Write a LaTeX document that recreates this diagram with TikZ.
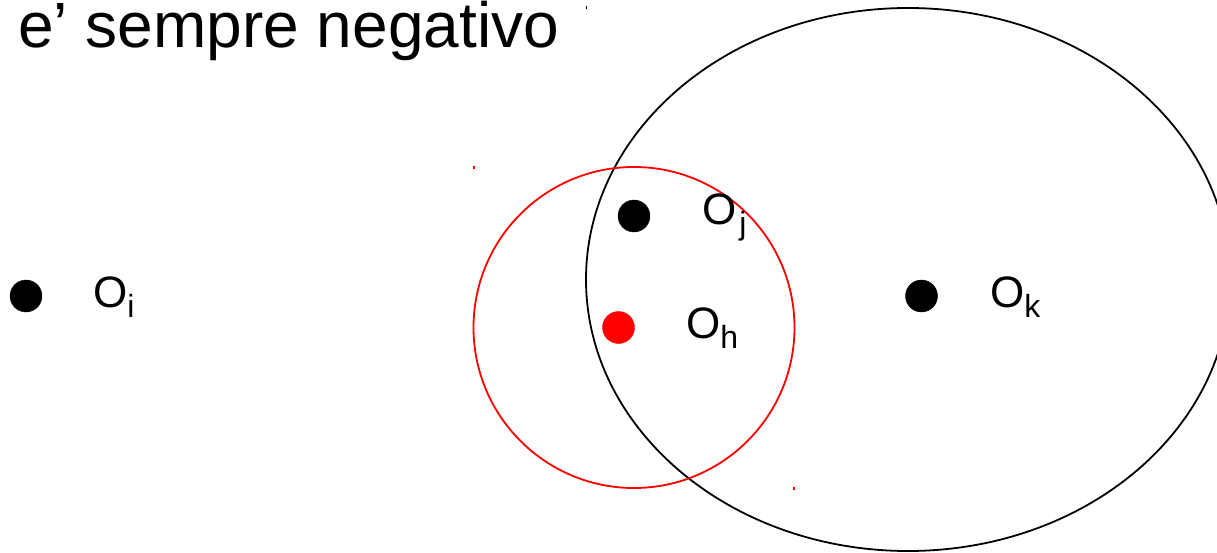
\documentclass[tikz,border=0pt]{standalone}
\usepackage{fontspec}
\setmainfont{Liberation Sans}
\usetikzlibrary{calc,positioning}

\newcommand\lblsub[1]{\raisebox{-10pt}{\fontsize{32}{32}\selectfont #1}}

\begin{document}
\begin{tikzpicture}[x=1pt,y=-1pt]
\tikzset{
  dot/.style={radius=16pt},
  lbl/.style={anchor=base west,inner sep=0pt,font=\fontsize{44}{44}\selectfont},
  ring/.style={line width=1.8pt},
}
\clip (0,0) rectangle (1217,553);

\node[anchor=base west,inner sep=0pt,text height=40pt,text depth=14pt,font=\fontsize{64}{64}\selectfont] (title) at (18,48) {e’ sempre negativo};

%big ellipse and red circle
\coordinate (ellc) at (908,279.5);
\draw [ring] (ellc) ellipse [x radius=322pt, y radius=271.5pt];

\coordinate (circc) at (634,327.5);
\draw [ring,red] (circc) circle [radius=160.5pt];

%points
\coordinate (Oi) at (26,296);
\filldraw (Oi) circle [dot];
\node[lbl] (lblOi) at (93,307) {O\lblsub{i}};

\coordinate (Oj) at (634,216);
\filldraw (Oj) circle [dot];
\node[lbl] (lblOj) at (702,225) {O\kern3pt\lblsub{j}};

\coordinate (Oh) at (618.5,327.5);
\filldraw [red] (Oh) circle [dot];
\node[lbl] (lblOh) at (686,338) {O\lblsub{h}};

\coordinate (Ok) at (921.5,296);
\filldraw (Ok) circle [dot];
\node[lbl] (lblOk) at (990,307) {O\lblsub{k}};

%handles
\fill [red] (473,166) rectangle (475,169);
\fill [red] (793,487) rectangle (795,490);
\fill (585.5,6) rectangle (586.5,9);

\end{tikzpicture}
\end{document}
